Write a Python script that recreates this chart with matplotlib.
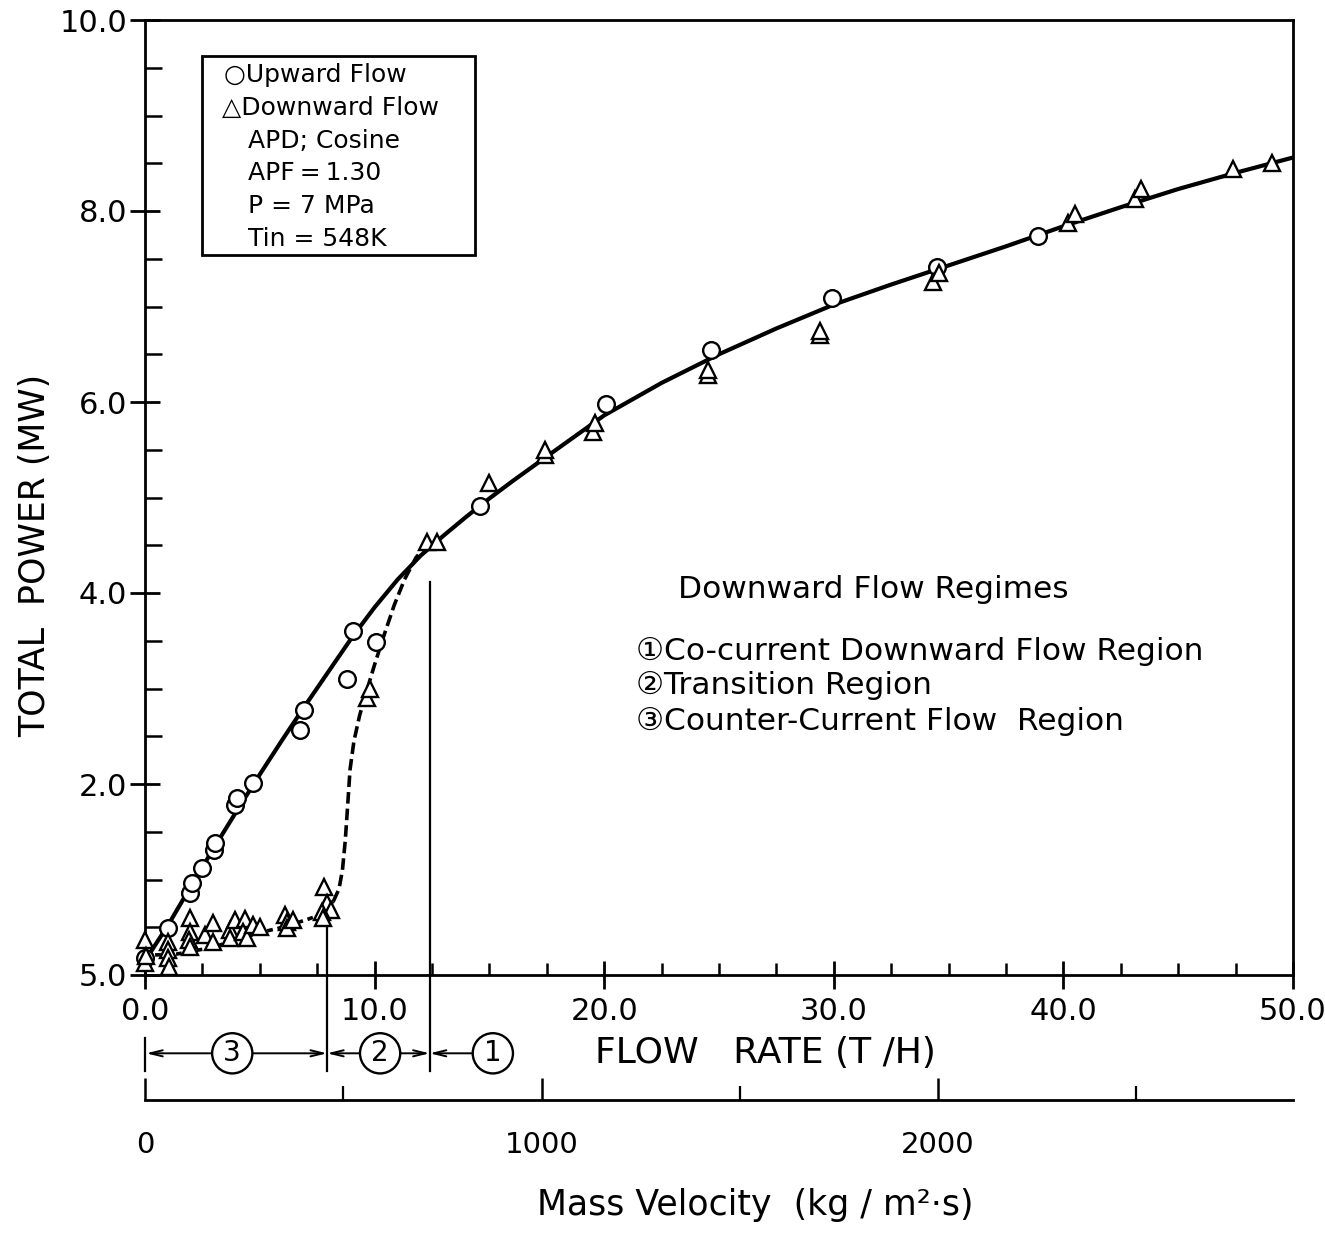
import matplotlib
matplotlib.use("Agg")
import matplotlib.pyplot as plt
from matplotlib.ticker import MultipleLocator, FixedLocator, FixedFormatter
from matplotlib.patches import Rectangle

# ---------------- data ----------------
# Upward flow measurements (flow rate T/H, total power MW)
up_x = [0.0, 1.0, 1.96, 2.05, 2.48, 3.0, 3.05, 3.9, 4.0, 4.7, 6.75, 6.93,
        8.8, 9.06, 10.06, 14.6, 20.1, 24.65, 29.9, 34.5, 38.9]
up_y = [0.18, 0.49, 0.86, 0.96, 1.12, 1.31, 1.38, 1.78, 1.85, 2.01, 2.57, 2.77,
        3.10, 3.60, 3.49, 4.91, 5.98, 6.54, 7.09, 7.41, 7.74]

# Downward flow measurements
down_x = [0.0, 0.0, 0.04, 1.0, 1.0, 1.0, 1.05, 1.96, 1.96, 1.9, 1.96, 2.6,
          2.96, 2.96, 3.7, 3.9, 3.7, 4.36, 4.27, 4.44, 4.7, 5.0, 6.1, 6.18,
          6.2, 6.45, 7.8, 7.93, 8.1, 7.7, 7.75, 9.65, 9.8, 12.3, 12.7, 15.0,
          17.4, 17.4, 19.5, 19.6, 24.5, 24.5, 29.4, 29.4, 34.3, 34.6, 40.2,
          40.5, 43.1, 43.4, 47.4, 49.1]
down_y = [0.37, 0.13, 0.20, 0.35, 0.26, 0.18, 0.08, 0.60, 0.45, 0.37, 0.29, 0.42,
          0.54, 0.35, 0.47, 0.58, 0.39, 0.59, 0.45, 0.39, 0.52, 0.50, 0.63, 0.56,
          0.49, 0.58, 0.92, 0.75, 0.68, 0.66, 0.60, 2.90, 3.00, 4.53, 4.53, 5.15,
          5.44, 5.50, 5.69, 5.78, 6.28, 6.33, 6.70, 6.74, 7.26, 7.35, 7.87,
          7.97, 8.13, 8.23, 8.44, 8.50]

# Fitted curve (solid)
fit_up_x = [0.0, 1.0, 2.0, 3.0, 4.0, 5.0, 6.0, 7.0, 8.0, 9.0, 10.0, 11.0, 12.0,
            13.0, 14.0, 15.0, 16.0, 17.5, 20.0, 22.5, 25.0, 27.5, 30.0, 32.5,
            35.0, 37.5, 40.0, 42.5, 45.0, 47.5, 50.0]
fit_up_y = [0.15, 0.52, 0.93, 1.33, 1.72, 2.10, 2.47, 2.83, 3.18, 3.53, 3.85, 4.14,
            4.39, 4.60, 4.80, 4.99, 5.17, 5.43, 5.86, 6.20, 6.50, 6.77, 7.02, 7.23,
            7.43, 7.63, 7.84, 8.04, 8.23, 8.40, 8.56]

# Downward flow curve (dashed)
fit_dn_x = [0.44, 1.4, 2.96, 3.7, 5.1, 6.0, 7.05, 7.85, 8.2, 8.45, 8.6, 8.72,
            8.82, 8.93, 9.1, 9.35, 9.65, 10.0, 10.4, 10.85, 11.3, 11.8, 12.33]
fit_dn_y = [0.21, 0.22, 0.29, 0.35, 0.45, 0.50, 0.58, 0.65, 0.77, 0.90, 1.10, 1.40,
            1.75, 2.15, 2.45, 2.72, 2.97, 3.25, 3.55, 3.87, 4.14, 4.37, 4.52]

# Regime boundaries (flow rate, T/H)
boundary_32 = 7.93
boundary_21 = 12.4
regime_labels = ["3", "2", "1"]
regime_label_x = [3.8, 10.24, 15.15]

# axes ticks / labels
y_ticks = [0, 2, 4, 6, 8, 10]
y_tick_labels = ["5.0", "2.0", "4.0", "6.0", "8.0", "10.0"]
x_ticks = [0, 10, 20, 30, 40, 50]
x_tick_labels = ["0.0", "10.0", "20.0", "30.0", "40.0", "50.0"]
mv_ticks = [0, 1000, 2000]
mv_minor = [500, 1500, 2500]
mv_per_flow = 57.9  # (kg/m2 s) per (T/H)

legend_lines = ["\u25CBUpward Flow", "\u25B3Downward Flow", "APD; Cosine",
                "APF\u2009=\u20091.30", "P = 7 MPa", "Tin = 548K"]
regime_heading = "Downward Flow Regimes"
regime_lines = ["\u2460Co-current Downward Flow Region",
                "\u2461Transition Region",
                "\u2462Counter-Current Flow  Region"]

# ---------------- figure ----------------
W, H = 1325, 1234
fig = plt.figure(figsize=(W / 100, H / 100), dpi=100)
fx = lambda px: px / W
fy = lambda py: 1 - py / H

ax = fig.add_axes([fx(145), fy(975), fx(1293) - fx(145), fy(20) - fy(975)])
ax.set_xlim(0, 50)
ax.set_ylim(0, 10)
for s in ax.spines.values():
    s.set_linewidth(2.0)

ax.yaxis.set_major_locator(FixedLocator(y_ticks))
ax.yaxis.set_major_formatter(FixedFormatter(y_tick_labels))
ax.yaxis.set_minor_locator(MultipleLocator(0.5))
ax.xaxis.set_major_locator(FixedLocator(x_ticks))
ax.xaxis.set_major_formatter(FixedFormatter(x_tick_labels))
ax.xaxis.set_minor_locator(MultipleLocator(2.5))
ax.tick_params(axis="y", which="major", direction="inout", length=22, width=2,
               labelsize=22, pad=2)
ax.tick_params(axis="y", which="minor", direction="in", length=12, width=1.8)
ax.tick_params(axis="x", which="major", direction="inout", length=20, width=2,
               labelsize=22, pad=6)
ax.tick_params(axis="x", which="minor", direction="in", length=9, width=1.8)
for lab in ax.get_xticklabels() + ax.get_yticklabels():
    lab.set_fontweight("medium")

# curves
ax.plot(fit_up_x, fit_up_y, color="black", lw=3.0, zorder=2,
        solid_capstyle="round", solid_joinstyle="round")
n_dot = 9
ax.plot(fit_dn_x[:n_dot], fit_dn_y[:n_dot], color="black", lw=2.6,
        dashes=(1.6, 1.3), zorder=2)
ax.plot(fit_dn_x[n_dot - 1:], fit_dn_y[n_dot - 1:], color="black", lw=2.6,
        dashes=(3.2, 1.4), zorder=2)

# data points
ax.plot(up_x, up_y, linestyle="none", marker="o", ms=12, mfc="white",
        mec="black", mew=1.7, zorder=4, clip_on=False)
ax.plot(down_x, down_y, linestyle="none", marker="^", ms=11, mfc="white",
        mec="black", mew=1.7, zorder=4, clip_on=False)

# regime boundary lines
row_y = -0.82
bottom_y = -1.0
ax.plot([boundary_32, boundary_32], [0.6, bottom_y], color="black", lw=1.6,
        clip_on=False, zorder=1)
ax.plot([boundary_21, boundary_21], [4.12, bottom_y], color="black", lw=1.6,
        clip_on=False, zorder=1)
ax.plot([0, 0], [-0.66, bottom_y], color="black", lw=1.6, clip_on=False)

aprops = dict(lw=1.4, color="black", shrinkA=0, shrinkB=0)
ax.annotate("", xy=(0.05, row_y), xytext=(boundary_32, row_y),
            arrowprops=dict(arrowstyle="<->,head_length=0.9,head_width=0.22", **aprops),
            annotation_clip=False)
ax.annotate("", xy=(boundary_32, row_y), xytext=(boundary_21, row_y),
            arrowprops=dict(arrowstyle="<->,head_length=0.9,head_width=0.22", **aprops),
            annotation_clip=False)
ax.annotate("", xy=(boundary_21, row_y), xytext=(regime_label_x[2], row_y),
            arrowprops=dict(arrowstyle="->,head_length=0.9,head_width=0.22", **aprops),
            annotation_clip=False)
for lab, xl in zip(regime_labels, regime_label_x):
    ax.text(xl, row_y, lab, ha="center", va="center", fontsize=20,
            bbox=dict(boxstyle="circle,pad=0.22", fc="white", ec="black", lw=1.7),
            clip_on=False, zorder=5)

# secondary (mass velocity) axis
sec = ax.secondary_xaxis(-0.1309, functions=(lambda f: f * mv_per_flow,
                                             lambda g: g / mv_per_flow))
sec.xaxis.set_major_locator(FixedLocator(mv_ticks))
sec.xaxis.set_minor_locator(FixedLocator(mv_minor))
sec.tick_params(axis="x", which="major", direction="in", length=16, width=1.8,
                labelsize=21, pad=22)
sec.tick_params(axis="x", which="minor", direction="in", length=10, width=1.6)
sec.spines["bottom"].set_linewidth(2.0)

# axis labels
fig.text(fx(35), fy(555), "TOTAL  POWER (MW)", rotation=90, ha="center",
         va="center", fontsize=25)
fig.text(fx(595), fy(1053), "FLOW   RATE (T /H)", ha="left", va="center",
         fontsize=26)
fig.text(fx(755), fy(1205), "Mass Velocity  (kg / m\u00B2\u00B7s)", ha="center",
         va="center", fontsize=25)

# legend box
fig.patches.append(Rectangle((fx(202), fy(255)), fx(475) - fx(202), fy(56) - fy(255),
                             transform=fig.transFigure, fill=False, ec="black",
                             lw=2.0))
leg_x = [fx(224), fx(222), fx(248), fx(248), fx(248), fx(248)]
leg_y = [75, 108, 141, 173, 206, 239]
for t, xx, yy in zip(legend_lines, leg_x, leg_y):
    fig.text(xx, fy(yy), t, ha="left", va="center", fontsize=18,
             family=["DejaVu Sans", "Noto Sans CJK JP"])

# regime text block
fig.text(fx(678), fy(590), regime_heading, ha="left", va="center", fontsize=22.5)
for t, yy in zip(regime_lines, [651, 686, 721]):
    fig.text(fx(636), fy(yy), t, ha="left", va="center", fontsize=22.5,
             family=["DejaVu Sans", "Noto Sans CJK JP"])

fig.savefig("out.png", dpi=100)
